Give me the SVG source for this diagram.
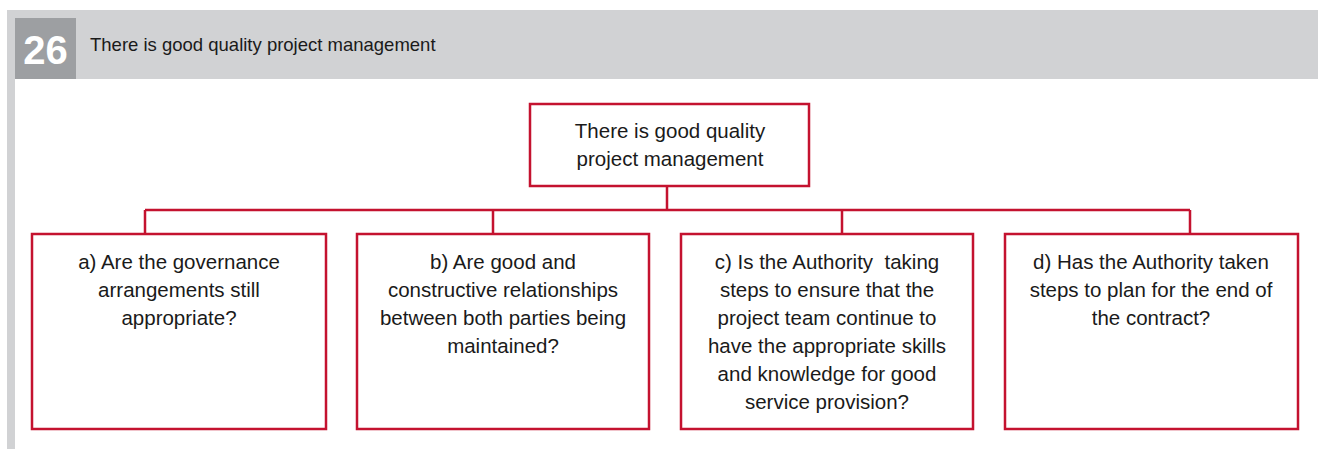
<svg xmlns="http://www.w3.org/2000/svg" width="1318" height="449" viewBox="0 0 1318 449">
<style>
.box{fill:#fff;stroke:#c4122f;stroke-width:2.5}
.con{fill:none;stroke:#c4122f;stroke-width:2.5}
.t{font-family:"Liberation Sans",Arial,sans-serif;font-size:20.5px;fill:#1a1a1a;text-anchor:middle;white-space:pre}
</style>
<rect x="7" y="10" width="1311" height="69" fill="#d1d2d4"/>
<rect x="7" y="79" width="8" height="370" fill="#d1d2d4"/>
<rect x="15" y="18" width="61" height="61" fill="#9d9fa2"/>
<text x="45.5" y="64" font-family="Liberation Sans,Arial,sans-serif" font-size="40" font-weight="bold" fill="#fff" text-anchor="middle">26</text>
<text x="90" y="51" font-family="Liberation Sans,Arial,sans-serif" font-size="18.5" fill="#1a1a1a">There is good quality project management</text>
<g id="connectors">
<path class="con" d="M667 186V210M145 210H1190M145 210V235M493 210V235M842 210V235M1190 210V235"/>
</g>
<g id="root">
<rect class="box" x="530" y="104" width="279" height="82"/>
<text class="t" x="670" y="138">There is good quality</text>
<text class="t" x="670" y="166">project management</text>
</g>
<g id="node-a">
<rect class="box" x="32" y="234" width="294" height="195"/>
<text class="t" x="179" y="269">a) Are the governance</text>
<text class="t" x="179" y="297">arrangements still</text>
<text class="t" x="179" y="325">appropriate?</text>
</g>
<g id="node-b">
<rect class="box" x="357" y="234" width="292" height="195"/>
<text class="t" x="503" y="269">b) Are good and</text>
<text class="t" x="503" y="297">constructive relationships</text>
<text class="t" x="503" y="325">between both parties being</text>
<text class="t" x="503" y="353">maintained?</text>
</g>
<g id="node-c">
<rect class="box" x="681" y="234" width="292" height="195"/>
<text class="t" x="827" y="269">c) Is the Authority  taking</text>
<text class="t" x="827" y="297">steps to ensure that the</text>
<text class="t" x="827" y="325">project team continue to</text>
<text class="t" x="827" y="353">have the appropriate skills</text>
<text class="t" x="827" y="381">and knowledge for good</text>
<text class="t" x="827" y="409">service provision?</text>
</g>
<g id="node-d">
<rect class="box" x="1005" y="234" width="293" height="195"/>
<text class="t" x="1151" y="269">d) Has the Authority taken</text>
<text class="t" x="1151" y="297">steps to plan for the end of</text>
<text class="t" x="1151" y="325">the contract?</text>
</g>
</svg>
